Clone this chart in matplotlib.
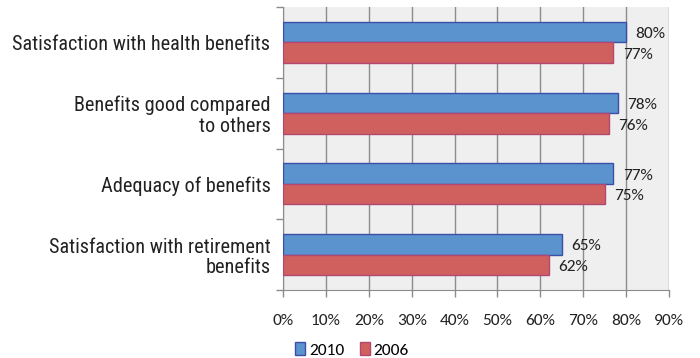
import matplotlib
matplotlib.use("Agg")
import matplotlib.pyplot as plt
from matplotlib.patches import Patch

categories = ["Satisfaction with health benefits",
              "Benefits good compared\nto others",
              "Adequacy of benefits",
              "Satisfaction with retirement\nbenefits"]
series_names = ["2010", "2006"]
values_2010 = [80, 78, 77, 65]
values_2006 = [77, 76, 75, 62]
xticks = [0, 10, 20, 30, 40, 50, 60, 70, 80, 90]

label_font = ["Roboto Condensed", "DejaVu Sans"]
num_font = ["Carlito", "DejaVu Sans"]

fig = plt.figure(figsize=(7, 3.58), dpi=100)
ax = fig.add_axes([283/700, 1-290/358, (669-283)/700, (290-7)/358])
ax.set_facecolor("#efefef")

blue, blue_e = "#5b93cf", "#3a4fa8"
red, red_e = "#d0605d", "#b04872"
h = 0.29
ys = list(range(len(categories)))
ax.barh([y - h/2 for y in ys], values_2010, height=h, color=blue, edgecolor=blue_e, linewidth=1.0, zorder=3)
ax.barh([y + h/2 for y in ys], values_2006, height=h, color=red, edgecolor=red_e, linewidth=1.0, zorder=3)

for y, v in zip(ys, values_2010):
    ax.text(v + 2.2, y - h/2 + 0.03, f"{v}%", va="center", ha="left", fontsize=12.5, family=num_font, color="#222222", zorder=4)
for y, v in zip(ys, values_2006):
    ax.text(v + 2.2, y + h/2 + 0.03, f"{v}%", va="center", ha="left", fontsize=12.5, family=num_font, color="#222222", zorder=4)

ax.set_xlim(0, 90)
ax.set_ylim(len(categories) - 0.5, -0.5)
ax.set_xticks(xticks)
ax.set_xticklabels([f"{t}%" for t in xticks], fontsize=12.5, family=num_font, color="#222222")
ax.xaxis.grid(True, color="#8c8c8c", linewidth=1.0, zorder=1)
ax.set_axisbelow(True)

ax.set_yticks(ys)
ax.set_yticklabels(categories, fontsize=14.6, color="#222222", family=label_font, linespacing=1.08)
ax.set_yticks([y - 0.5 for y in ys] + [len(categories) - 0.5], minor=True)
ax.tick_params(axis="y", which="major", length=0, pad=9)
ax.tick_params(axis="y", which="minor", length=5, color="#8c8c8c", width=1)
ax.tick_params(axis="x", length=5, color="#8c8c8c", width=1, pad=12)
for lab in ax.get_yticklabels():
    lab.set_multialignment("right")

for s in ["top", "right"]:
    ax.spines[s].set_visible(False)
ax.spines["left"].set_color("#8c8c8c")
ax.spines["bottom"].set_color("#8c8c8c")

handles = [Patch(facecolor=blue, edgecolor=blue_e, label=series_names[0]),
           Patch(facecolor=red, edgecolor=red_e, label=series_names[1])]
fig.legend(handles=handles, loc="center", bbox_to_anchor=(352/700, 1-350/358), ncol=2, frameon=False,
           prop=dict(family=num_font, size=12.5), handlelength=0.6, handleheight=0.7,
           handletextpad=0.2, columnspacing=0.9)

fig.savefig("out.png", dpi=100)
